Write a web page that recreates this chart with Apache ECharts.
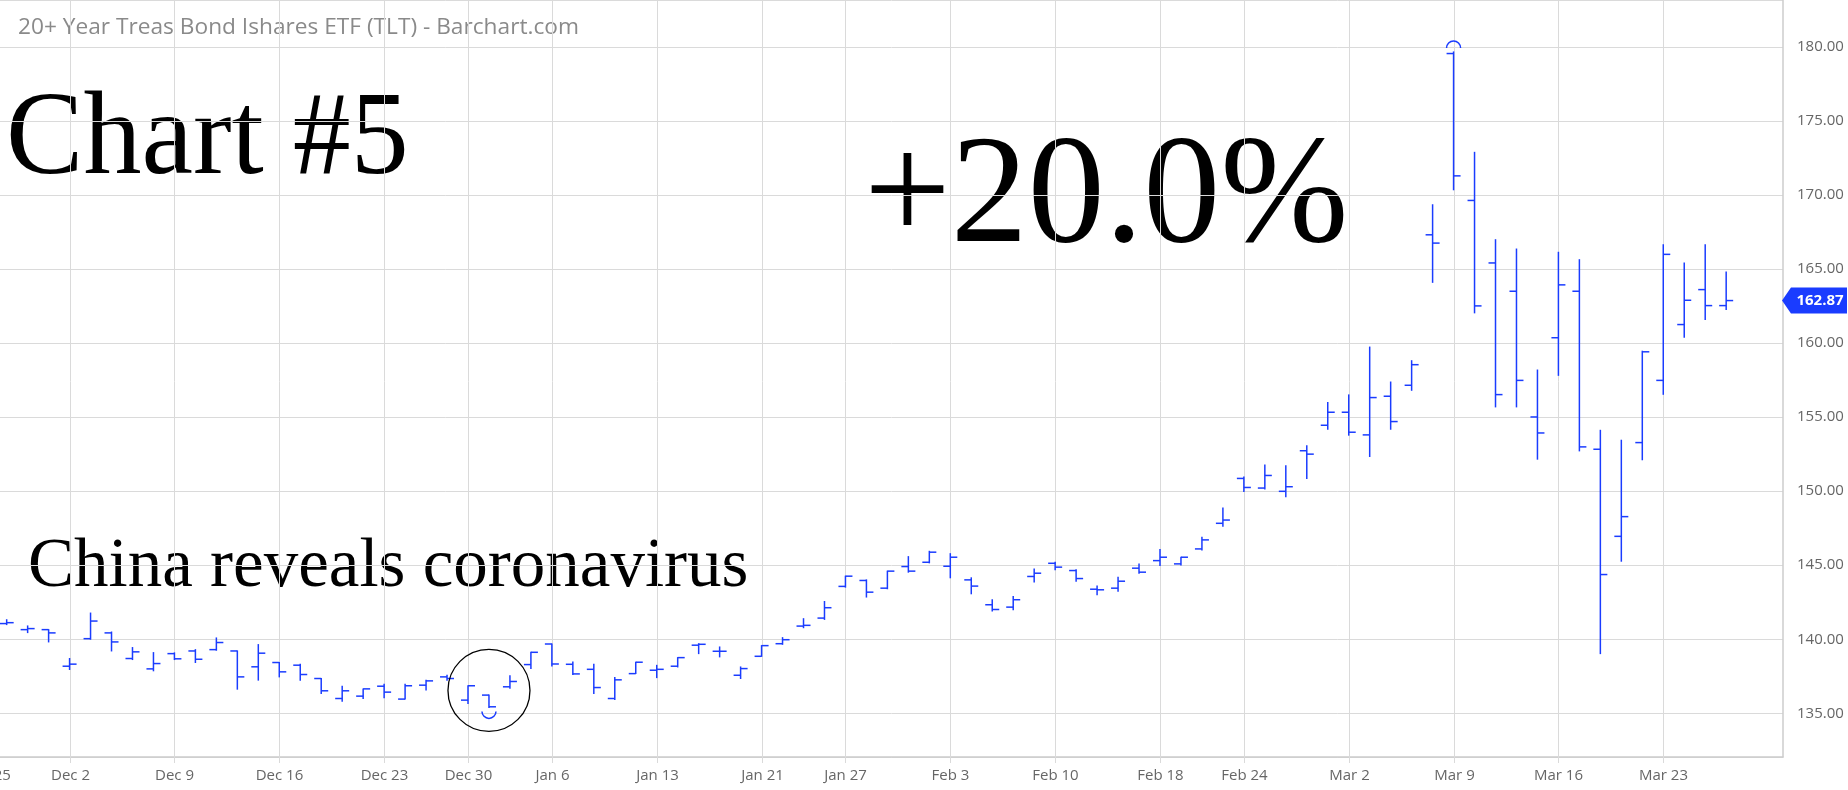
<!DOCTYPE html>
<html>
<head>
<meta charset="utf-8">
<script src="https://cdn.jsdelivr.net/npm/echarts@6/dist/echarts.min.js"></script>
<style>
html,body{margin:0;padding:0;background:#fff;}
#chart{width:1848px;height:790px;}
</style>
</head>
<body>
<div id="chart"></div>
<script>
// ---- data ----
const dates = [
 '2019-11-25','2019-11-26','2019-11-27','2019-11-29',
 '2019-12-02','2019-12-03','2019-12-04','2019-12-05','2019-12-06',
 '2019-12-09','2019-12-10','2019-12-11','2019-12-12','2019-12-13',
 '2019-12-16','2019-12-17','2019-12-18','2019-12-19','2019-12-20',
 '2019-12-23','2019-12-24','2019-12-26','2019-12-27',
 '2019-12-30','2019-12-31','2020-01-02','2020-01-03',
 '2020-01-06','2020-01-07','2020-01-08','2020-01-09','2020-01-10',
 '2020-01-13','2020-01-14','2020-01-15','2020-01-16','2020-01-17',
 '2020-01-21','2020-01-22','2020-01-23','2020-01-24',
 '2020-01-27','2020-01-28','2020-01-29','2020-01-30','2020-01-31',
 '2020-02-03','2020-02-04','2020-02-05','2020-02-06','2020-02-07',
 '2020-02-10','2020-02-11','2020-02-12','2020-02-13','2020-02-14',
 '2020-02-18','2020-02-19','2020-02-20','2020-02-21',
 '2020-02-24','2020-02-25','2020-02-26','2020-02-27','2020-02-28',
 '2020-03-02','2020-03-03','2020-03-04','2020-03-05','2020-03-06',
 '2020-03-09','2020-03-10','2020-03-11','2020-03-12','2020-03-13',
 '2020-03-16','2020-03-17','2020-03-18','2020-03-19','2020-03-20',
 '2020-03-23','2020-03-24','2020-03-25','2020-03-26'
];
const openVals = [
 null,141.06,140.65,140.65,
 138.18,140.04,140.43,138.70,138.00,
 139.03,139.21,139.30,139.21,138.14,
 138.43,138.25,137.35,136.00,136.16,
 136.83,135.96,136.90,137.46,
 135.89,136.23,136.79,138.29,
 139.68,138.31,137.97,136.00,137.68,
 137.91,138.18,139.60,139.19,137.57,
 138.85,139.70,140.89,141.43,
 143.57,143.97,143.45,144.91,145.20,
 144.93,144.01,142.33,142.17,144.24,
 145.13,144.64,143.38,143.45,144.80,
 145.31,145.09,146.10,147.83,
 150.86,150.21,149.99,152.73,154.45,
 155.33,153.80,156.41,157.15,167.31,
 179.55,169.63,165.41,163.50,155.01,
 160.36,163.50,152.83,146.95,153.28,
 157.48,161.25,163.61,162.53
];
const highVals = [
 null,141.32,140.90,140.65,
 138.70,141.77,140.49,139.44,139.10,
 139.08,139.30,140.09,139.21,139.64,
 138.43,138.32,137.35,136.83,136.65,
 136.97,136.97,137.24,137.57,
 136.86,136.23,137.53,139.12,
 139.68,138.47,138.31,137.41,138.45,
 138.24,138.76,139.70,139.48,138.13,
 139.57,140.11,141.39,142.55,
 144.26,144.01,144.60,145.58,145.94,
 145.78,144.15,142.67,142.89,144.75,
 145.20,144.69,143.59,144.19,145.09,
 146.06,145.54,146.89,148.86,
 150.95,151.76,151.71,153.06,155.98,
 156.50,159.73,157.37,158.81,169.34,
 179.66,172.88,166.98,166.35,158.18,
 166.13,165.63,154.11,153.44,159.45,
 166.64,165.41,166.64,164.80
];
const lowVals = [
 null,140.99,140.45,139.82,
 137.96,140.00,139.21,138.63,137.87,
 138.63,138.43,139.26,136.63,137.24,
 137.46,137.24,136.34,135.82,136.00,
 136.05,135.96,136.57,137.24,
 135.67,135.40,136.70,138.02,
 138.20,137.62,136.34,135.93,137.68,
 137.41,138.13,139.03,138.81,137.35,
 138.85,139.66,140.78,141.34,
 143.52,142.85,143.41,144.53,145.16,
 144.15,143.07,141.90,141.99,143.86,
 144.69,143.92,143.00,143.25,144.46,
 144.98,145.02,146.03,147.63,
 149.98,150.14,149.63,150.86,154.18,
 153.78,152.34,154.18,156.81,164.10,
 170.35,162.04,155.69,155.69,152.16,
 157.82,152.72,139.03,145.27,152.12,
 156.54,160.40,161.59,162.26
];
const closeVals = [
 null,141.12,140.72,140.43,
 138.32,141.23,139.82,139.15,138.36,
 138.68,138.65,139.78,137.46,139.06,
 137.80,137.62,136.52,136.52,136.65,
 136.43,136.86,137.19,137.35,
 136.86,135.44,137.15,139.12,
 138.33,137.66,136.74,137.26,138.45,
 137.97,138.76,139.66,139.19,138.02,
 139.57,139.97,140.94,142.13,
 144.26,143.18,144.60,144.60,145.88,
 145.54,143.59,142.01,142.67,144.46,
 144.87,144.10,143.34,143.92,144.53,
 145.54,145.54,146.71,148.05,
 150.25,151.06,150.30,152.50,155.33,
 153.98,156.32,154.70,158.54,166.75,
 171.29,162.51,156.52,157.48,153.93,
 163.93,152.99,144.37,148.28,159.41,
 165.99,162.89,162.53,162.87
];
const weekTicks = ['2019-11-25','2019-12-02','2019-12-09','2019-12-16','2019-12-23','2019-12-30',
 '2020-01-06','2020-01-13','2020-01-21','2020-01-27','2020-02-03','2020-02-10','2020-02-18',
 '2020-02-24','2020-03-02','2020-03-09','2020-03-16','2020-03-23'];
const weekLabels = ['Nov 25','Dec 2','Dec 9','Dec 16','Dec 23','Dec 30','Jan 6','Jan 13','Jan 21',
 'Jan 27','Feb 3','Feb 10','Feb 18','Feb 24','Mar 2','Mar 9','Mar 16','Mar 23'];
const yTickStep = 5;
const titleText = '20+ Year Treas Bond Ishares ETF (TLT) - Barchart.com';
const lastPrice = 162.87;

// ---- styles ----
const BLUE = '#1a3cff';
const GRID = '#dadada';
const AXIS = '#cccccc';
const LABEL = '#666666';
const SANS = '"Open Sans", "Noto Sans", sans-serif';
const SERIF = '"Liberation Serif", "Times New Roman", serif';

const barData = [];
dates.forEach((d, i) => {
  if (openVals[i] != null) barData.push([i, openVals[i], highVals[i], lowVals[i], closeVals[i]]);
});
const weekData = weekTicks.map((d, k) => [dates.indexOf(d), weekLabels[k]]);

let hiIdx = 1, loIdx = 1;
for (let i = 1; i < dates.length; i++) {
  if (highVals[i] > highVals[hiIdx]) hiIdx = i;
  if (lowVals[i] < lowVals[loIdx]) loIdx = i;
}
const extremeData = [[hiIdx, highVals[hiIdx], 1], [loIdx, lowVals[loIdx], -1]];
const lastIdx = dates.length - 1;

const chart = echarts.init(document.getElementById('chart'), null, {renderer: 'canvas'});

const option = {
  animation: false,
  backgroundColor: '#ffffff',
  grid: {left: 0, right: 65, top: -2, bottom: 33, containLabel: false},
  xAxis: {
    type: 'value', min: 0.682, max: 85.71,
    axisLine: {show: true, onZero: false, lineStyle: {color: AXIS, width: 1.5}},
    axisTick: {show: false}, axisLabel: {show: false}, splitLine: {show: false}
  },
  yAxis: {
    type: 'value', position: 'right', min: 132.05, max: 183.165, splitNumber: 10,
    axisLine: {show: true, lineStyle: {color: AXIS, width: 1.5}},
    axisTick: {show: false},
    splitLine: {show: true, lineStyle: {color: GRID, width: 1}},
    axisLabel: {
      show: true, margin: 14, color: LABEL, fontSize: 15, fontFamily: SANS,
      showMinLabel: false, showMaxLabel: false,
      formatter: v => (Math.abs(v / yTickStep - Math.round(v / yTickStep)) < 1e-6 ? v.toFixed(2) : '')
    }
  },
  series: [
    {
      type: 'custom', name: 'weeks', silent: true, z: 1,
      data: weekData,
      renderItem: (params, api) => {
        const x = Math.round(api.coord([api.value(0), 150])[0]) + 0.5;
        const cs = params.coordSys;
        const bottom = cs.y + cs.height;
        return {type: 'group', children: [
          {type: 'line', shape: {x1: x, y1: 0, x2: x, y2: bottom + 6}, style: {stroke: GRID, lineWidth: 1}},
          {type: 'text', style: {text: weekLabels[params.dataIndex], x: x, y: bottom + 19,
            align: 'center', verticalAlign: 'middle', fill: LABEL, font: '15px ' + SANS}}
        ]};
      }
    },
    {
      type: 'custom', name: 'TLT', silent: true, z: 5,
      data: barData,
      renderItem: (params, api) => {
        const i = api.value(0);
        const o = api.coord([i, api.value(1)]);
        const h = api.coord([i, api.value(2)]);
        const l = api.coord([i, api.value(3)]);
        const c = api.coord([i, api.value(4)]);
        const x = o[0];
        const st = {stroke: BLUE, lineWidth: 1.5};
        return {type: 'group', children: [
          {type: 'line', shape: {x1: x, y1: h[1] - 0.5, x2: x, y2: l[1] + 0.5}, style: st},
          {type: 'line', shape: {x1: x - 7, y1: o[1], x2: x, y2: o[1]}, style: st},
          {type: 'line', shape: {x1: x, y1: c[1], x2: x + 7, y2: c[1]}, style: st}
        ]};
      }
    },
    {
      type: 'custom', name: 'extremes', silent: true, z: 6,
      data: extremeData,
      renderItem: (params, api) => {
        const p = api.coord([api.value(0), api.value(1)]);
        const up = api.value(2) > 0;
        const children = [{
          type: 'arc',
          shape: up ? {cx: p[0], cy: p[1] - 4, r: 7, startAngle: Math.PI, endAngle: 2 * Math.PI, clockwise: true}
                    : {cx: p[0], cy: p[1] + 4, r: 7, startAngle: 0, endAngle: Math.PI, clockwise: true},
          style: {stroke: BLUE, lineWidth: 1.5, fill: null}
        }];
        if (!up) {
          children.push({type: 'circle', shape: {cx: p[0], cy: p[1] - 17, r: 41},
            style: {stroke: '#000', lineWidth: 1.3, fill: null}});
        }
        return {type: 'group', children: children};
      }
    },
    {
      type: 'custom', name: 'last', silent: true, z: 7,
      data: [[lastIdx, lastPrice]],
      renderItem: (params, api) => {
        const y = api.coord([api.value(0), api.value(1)])[1];
        const cs = params.coordSys;
        const xr = cs.x + cs.width;
        return {type: 'group', children: [
          {type: 'polygon', shape: {points: [[xr - 1, y], [xr + 8, y - 13], [xr + 64, y - 13], [xr + 64, y + 13], [xr + 8, y + 13]]},
            style: {fill: BLUE}},
          {type: 'text', style: {text: api.value(1).toFixed(2), x: xr + 37, y: y + 0.5, align: 'center', verticalAlign: 'middle',
            fill: '#ffffff', font: 'bold 15px ' + SANS}}
        ]};
      }
    }
  ],
  graphic: [
    {type: 'text', left: 18, top: 16, silent: true,
      style: {text: titleText, font: '22.7px ' + SANS, fill: '#8a8a8a'}},
    {type: 'text', x: 6, y: 142, scaleX: 0.975, silent: true,
      style: {text: 'Chart #5', font: '119px ' + SERIF, fill: '#000', verticalAlign: 'middle'}},
    {type: 'text', x: 864, y: 201, silent: true,
      style: {text: '+20.0%', font: '154px ' + SERIF, fill: '#000', verticalAlign: 'middle'}},
    {type: 'text', x: 28, y: 568, silent: true,
      style: {text: 'China reveals coronavirus', font: '69px ' + SERIF, fill: '#000', verticalAlign: 'middle'}}
  ]
};
chart.setOption(option);
</script>
</body>
</html>
